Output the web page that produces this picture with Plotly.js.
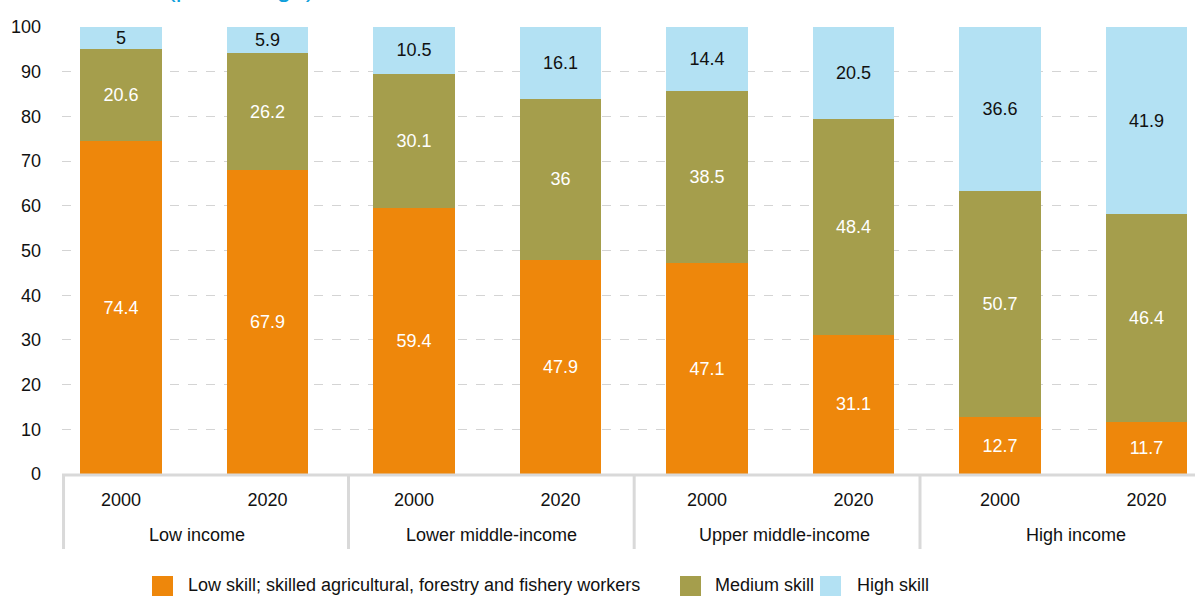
<!DOCTYPE html>
<html>
<head>
<meta charset="utf-8">
<script src="https://cdn.plot.ly/plotly-3.0.1.min.js"></script>
<style>html,body{margin:0;padding:0;background:#fff;}#chart{width:1195px;height:596px;}</style>
</head>
<body>
<div id="chart"></div>
<script>
// ---- data ----
const groups = ["Low income", "Lower middle-income", "Upper middle-income", "High income"];
const years = ["2000", "2020", "2000", "2020", "2000", "2020", "2000", "2020"];
const seriesNames = ["Low skill; skilled agricultural, forestry and fishery workers", "Medium skill", "High skill"];
const lowSkill    = [74.4, 67.9, 59.4, 47.9, 47.1, 31.1, 12.7, 11.7];
const mediumSkill = [20.6, 26.2, 30.1, 36, 38.5, 48.4, 50.7, 46.4];
const highSkill   = [5, 5.9, 10.5, 16.1, 14.4, 20.5, 36.6, 41.9];
const yTicks = [0, 10, 20, 30, 40, 50, 60, 70, 80, 90, 100];

// ---- styling ----
const FONT = "'Liberation Sans', Arial, sans-serif";
const FS = 18;
const colors = ["#EE870B", "#A59E4C", "#B3E1F3"];
const textColors = ["#ffffff", "#ffffff", "#111111"];
const W = 1195, H = 596, ML = 62, MR = 0, MT = 27, MB = 122;
const PW = W - ML - MR, PH = H - MT - MB;
const px2x = X => (X - ML) / PW;
const px2y = Y => (H - MB - Y) / PH;

const xIdx = years.map((_, i) => i);
const values = [lowSkill, mediumSkill, highSkill];

const traces = values.map((v, k) => ({
  type: "bar",
  x: xIdx,
  y: v,
  name: seriesNames[k],
  width: 0.556,
  marker: {color: colors[k], line: {width: 0}},
  text: v.map(String),
  textposition: "inside",
  insidetextanchor: "middle",
  constraintext: "none",
  textangle: 0,
  textfont: {family: FONT, size: FS, color: textColors[k]},
  hoverinfo: "skip",
  showlegend: false
}));

const shapes = [];
const annotations = [];

// axis line
shapes.push({type: "line", xref: "paper", yref: "paper", x0: px2x(62), x1: px2x(1195), y0: px2y(475), y1: px2y(475),
  line: {color: "#d9d9d9", width: 3}});
// group dividers (x in data units) and group labels
const dividerX = [-0.392, 1.553, 3.503, 5.454];
const groupLabelX = [0.52, 2.53, 4.53, 6.52];
dividerX.forEach(d => shapes.push({type: "line", xref: "x", yref: "paper", x0: d, x1: d, y0: px2y(475), y1: px2y(549),
  line: {color: "#d9d9d9", width: 3}}));
groups.forEach((g, i) => annotations.push({text: g, xref: "x", yref: "paper", x: groupLabelX[i], y: px2y(535),
  xanchor: "center", yanchor: "middle", showarrow: false, font: {family: FONT, size: FS, color: "#111"}}));

// legend (manual)
const legSquareX = [152, 680, 820];
const legTextX = [186, 713, 855];
seriesNames.forEach((n, k) => {
  shapes.push({type: "rect", xref: "paper", yref: "paper", x0: px2x(legSquareX[k]), x1: px2x(legSquareX[k] + 21),
    y0: px2y(597), y1: px2y(576), fillcolor: colors[k], line: {width: 0}});
  annotations.push({text: n, xref: "paper", yref: "paper", x: px2x(legTextX[k]), y: px2y(585), xanchor: "left", yanchor: "middle",
    showarrow: false, font: {family: FONT, size: FS, color: "#111"}});
});

// title, cut off at the top edge as in the original
annotations.push({text: "(percentage)", xref: "paper", yref: "paper", x: px2x(165), y: px2y(-12), xanchor: "left", yanchor: "middle",
  showarrow: false, font: {family: FONT, size: 26, color: "#109FDB"}});

const layout = {
  width: W, height: H,
  margin: {l: ML, r: MR, t: MT, b: MB, pad: 0},
  paper_bgcolor: "#fff", plot_bgcolor: "#fff",
  barmode: "stack",
  bargap: 0,
  showlegend: false,
  font: {family: FONT, size: FS, color: "#111"},
  xaxis: {
    range: [-0.4025, 7.331],
    tickmode: "array", tickvals: xIdx, ticktext: years,
    ticks: "", showgrid: false, zeroline: false, showline: false,
    ticklabelstandoff: 13,
    tickfont: {family: FONT, size: FS, color: "#111"},
    fixedrange: true
  },
  yaxis: {
    range: [0, 100],
    tickmode: "array", tickvals: yTicks,
    ticks: "", showline: false, zeroline: false,
    showgrid: true, gridcolor: "#d4d4d4", gridwidth: 1, griddash: "dash",
    ticklabelstandoff: 20,
    tickfont: {family: FONT, size: FS, color: "#111"},
    fixedrange: true
  },
  shapes: shapes,
  annotations: annotations
};

Plotly.newPlot("chart", traces, layout, {displayModeBar: false, staticPlot: true});
</script>
</body>
</html>
